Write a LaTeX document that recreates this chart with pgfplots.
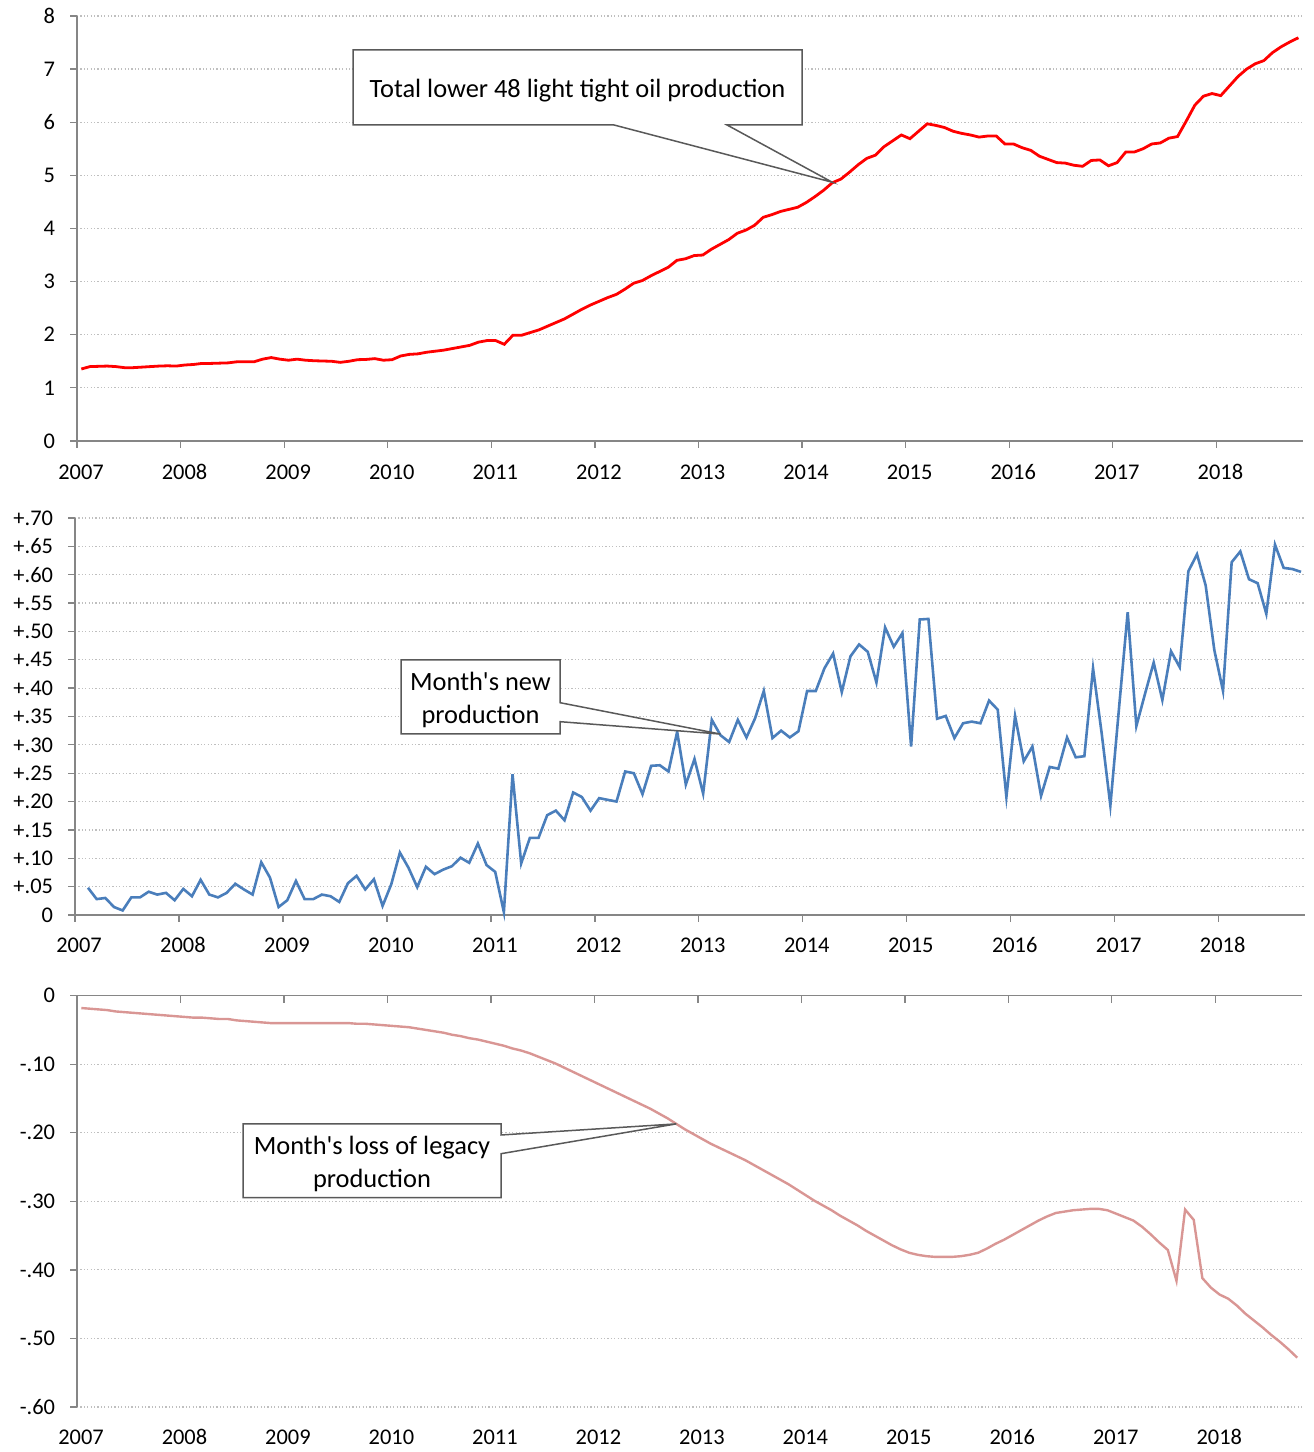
\documentclass[border=0pt]{standalone}
\usepackage{fontspec}
\setmainfont{Carlito}
\usepackage{pgfplots}
\pgfplotsset{compat=1.18}

\definecolor{axgray}{HTML}{868686}
\definecolor{gridgray}{HTML}{BFBFBF}
\definecolor{boxgray}{HTML}{595959}
\definecolor{oilred}{HTML}{FF0000}
\definecolor{newblue}{HTML}{4A7EBB}
\definecolor{losspink}{HTML}{D99694}

\newcommand\ticksize{\fontsize{22.5}{27}\selectfont}
\newcommand\notesize{\fontsize{26.5}{33}\selectfont}

\pgfplotsset{
  panel/.style={
    scale only axis,
    clip=false,
    xmin=-0.5, xmax=141.5,
    xtick={-0.5,11.5,23.5,35.5,47.5,59.5,71.5,83.5,95.5,107.5,119.5,131.5},
    xticklabels={2007,2008,2009,2010,2011,2012,2013,2014,2015,2016,2017,2018},
    major tick length=7bp,
    tick style={draw=axgray, line width=1.3bp},
    ymajorgrids,
    grid style={draw=gridgray, line width=1.2bp, dash pattern=on 1.2bp off 2.2bp},
    tick label style={font=\ticksize, text=black, inner sep=0pt, outer sep=0pt},
  },
  % applied after the axis line keys
  lines/.style={
    axis line style={draw=axgray, line width=1.3bp, -},
    tick align=outside,
    yticklabel style={anchor=east, xshift=-15bp},
  },
  xlab/.style={xticklabel style={anchor=center, text height=14.3bp, text depth=0bp,
    xshift=4bp, yshift=#1}},
}
\tikzset{callout/.style={draw=boxgray, line width=1.5bp, fill=white}}

\begin{document}
\begin{tikzpicture}[x=1bp,y=1bp]
\useasboundingbox (0,0) rectangle (1314,1452);

% total production
\begin{axis}[panel, at={(77bp,1011bp)}, anchor=south west,
    width=1225.7bp, height=425bp,
    axis x line=bottom, axis y line=left, lines, xlab=-24bp,
    ymin=0, ymax=8, ytick={0,1,2,3,4,5,6,7,8},
    yticklabels={0,1,2,3,4,5,6,7,8}]
  \addplot[oilred, line width=2.8bp] coordinates {
    (0,1.355) (1,1.40) (2,1.405) (3,1.41) (4,1.40) (5,1.38) (6,1.38) (7,1.39)
    (8,1.40) (9,1.41) (10,1.415) (11,1.41) (12,1.43) (13,1.44) (14,1.46) (15,1.46)
    (16,1.465) (17,1.47) (18,1.49) (19,1.49) (20,1.49) (21,1.54) (22,1.57) (23,1.54)
    (24,1.52) (25,1.54) (26,1.52) (27,1.51) (28,1.505) (29,1.50) (30,1.48) (31,1.50)
    (32,1.53) (33,1.535) (34,1.55) (35,1.52) (36,1.53) (37,1.60) (38,1.63) (39,1.64)
    (40,1.67) (41,1.69) (42,1.71) (43,1.74) (44,1.77) (45,1.80) (46,1.86) (47,1.89)
    (48,1.89) (49,1.82) (50,1.99) (51,1.99) (52,2.04) (53,2.09) (54,2.16) (55,2.23)
    (56,2.30) (57,2.39) (58,2.48) (59,2.56) (60,2.63) (61,2.70) (62,2.76) (63,2.86)
    (64,2.97) (65,3.02) (66,3.11) (67,3.19) (68,3.27) (69,3.40) (70,3.43) (71,3.49)
    (72,3.50) (73,3.61) (74,3.70) (75,3.79) (76,3.91) (77,3.97) (78,4.06) (79,4.21)
    (80,4.26) (81,4.32) (82,4.36) (83,4.40) (84,4.49) (85,4.60) (86,4.72) (87,4.86)
    (88,4.93) (89,5.06) (90,5.20) (91,5.32) (92,5.38) (93,5.54) (94,5.65) (95,5.76)
    (96,5.69) (97,5.83) (98,5.97) (99,5.94) (100,5.90) (101,5.83) (102,5.79) (103,5.76)
    (104,5.72) (105,5.74) (106,5.74) (107,5.59) (108,5.59) (109,5.52) (110,5.47) (111,5.36)
    (112,5.30) (113,5.24) (114,5.23) (115,5.19) (116,5.17) (117,5.28) (118,5.29) (119,5.18)
    (120,5.24) (121,5.44) (122,5.44) (123,5.50) (124,5.59) (125,5.61) (126,5.70) (127,5.73)
    (128,6.02) (129,6.32) (130,6.49) (131,6.54) (132,6.50) (133,6.68) (134,6.86) (135,7.00)
    (136,7.10) (137,7.16) (138,7.31) (139,7.42) (140,7.51) (141,7.59)
  };
  \coordinate (tipA) at (axis cs:87,4.87);
\end{axis}

% new production
\begin{axis}[panel, at={(75bp,537bp)}, anchor=south west,
    width=1230.3bp, height=397bp,
    axis x line=bottom, axis y line=left, lines, xlab=-23.5bp,
    ymin=0, ymax=0.7,
    ytick={0,0.05,0.1,0.15,0.2,0.25,0.3,0.35,0.4,0.45,0.5,0.55,0.6,0.65,0.7},
    yticklabels={0,+.05,+.10,+.15,+.20,+.25,+.30,+.35,+.40,+.45,+.50,+.55,+.60,+.65,+.70}]
  \addplot[newblue, line width=2.6bp] coordinates {
    (1,0.048) (2,0.028) (3,0.030) (4,0.014) (5,0.008) (6,0.031) (7,0.031)
    (8,0.041) (9,0.036) (10,0.039) (11,0.026) (12,0.046) (13,0.033) (14,0.062) (15,0.036)
    (16,0.031) (17,0.039) (18,0.055) (19,0.045) (20,0.036) (21,0.093) (22,0.066) (23,0.014)
    (24,0.026) (25,0.060) (26,0.028) (27,0.028) (28,0.036) (29,0.033) (30,0.023) (31,0.056)
    (32,0.069) (33,0.045) (34,0.063) (35,0.016) (36,0.054) (37,0.110) (38,0.083) (39,0.049)
    (40,0.085) (41,0.072) (42,0.080) (43,0.086) (44,0.101) (45,0.092) (46,0.126) (47,0.088)
    (48,0.076) (49,0.005) (50,0.248) (51,0.091) (52,0.136) (53,0.136) (54,0.176) (55,0.184)
    (56,0.167) (57,0.216) (58,0.208) (59,0.184) (60,0.206) (61,0.203) (62,0.200) (63,0.253)
    (64,0.250) (65,0.213) (66,0.263) (67,0.264) (68,0.253) (69,0.323) (70,0.230) (71,0.275)
    (72,0.214) (73,0.344) (74,0.317) (75,0.305) (76,0.344) (77,0.313) (78,0.347) (79,0.395)
    (80,0.312) (81,0.325) (82,0.313) (83,0.324) (84,0.395) (85,0.395) (86,0.435) (87,0.461)
    (88,0.393) (89,0.456) (90,0.477) (91,0.464) (92,0.410) (93,0.507) (94,0.473) (95,0.497)
    (96,0.297) (97,0.521) (98,0.522) (99,0.346) (100,0.351) (101,0.312) (102,0.338) (103,0.341)
    (104,0.338) (105,0.378) (106,0.362) (107,0.208) (108,0.351) (109,0.271) (110,0.297) (111,0.210)
    (112,0.261) (113,0.258) (114,0.313) (115,0.278) (116,0.280) (117,0.435) (118,0.320) (119,0.193)
    (120,0.365) (121,0.534) (122,0.333) (123,0.390) (124,0.445) (125,0.379) (126,0.465) (127,0.437)
    (128,0.606) (129,0.636) (130,0.581) (131,0.467) (132,0.395) (133,0.622) (134,0.641) (135,0.592)
    (136,0.585) (137,0.531) (138,0.653) (139,0.612) (140,0.610) (141,0.605)
  };
  \coordinate (tipB) at (axis cs:74,0.319);
\end{axis}

% legacy loss
\begin{axis}[panel, at={(77bp,45bp)}, anchor=south west,
    width=1224.5bp, height=411.3bp,
    axis x line=top, axis y line=left, lines,
    xtick align=inside, xlab=-442bp,
    ymin=-0.6, ymax=0,
    ytick={-0.6,-0.5,-0.4,-0.3,-0.2,-0.1,0},
    yticklabels={-.60,-.50,-.40,-.30,-.20,-.10,0}]
  \addplot[losspink, line width=2.4bp] coordinates {
    (0,-0.018) (1,-0.019) (2,-0.020) (3,-0.021) (4,-0.023) (5,-0.024) (6,-0.025) (7,-0.026)
    (8,-0.027) (9,-0.028) (10,-0.029) (11,-0.030) (12,-0.031) (13,-0.032) (14,-0.032) (15,-0.033)
    (16,-0.034) (17,-0.034) (18,-0.036) (19,-0.037) (20,-0.038) (21,-0.039) (22,-0.040) (23,-0.040)
    (24,-0.040) (25,-0.040) (26,-0.040) (27,-0.040) (28,-0.040) (29,-0.040) (30,-0.040) (31,-0.040)
    (32,-0.041) (33,-0.041) (34,-0.042) (35,-0.043) (36,-0.044) (37,-0.045) (38,-0.046) (39,-0.048)
    (40,-0.050) (41,-0.052) (42,-0.054) (43,-0.057) (44,-0.059) (45,-0.062) (46,-0.064) (47,-0.067)
    (48,-0.070) (49,-0.073) (50,-0.077) (51,-0.080) (52,-0.084) (53,-0.089) (54,-0.094) (55,-0.099)
    (56,-0.105) (57,-0.111) (58,-0.117) (59,-0.123) (60,-0.129) (61,-0.135) (62,-0.141) (63,-0.147)
    (64,-0.153) (65,-0.159) (66,-0.165) (67,-0.172) (68,-0.179) (69,-0.187) (70,-0.195) (71,-0.202)
    (72,-0.209) (73,-0.216) (74,-0.222) (75,-0.228) (76,-0.234) (77,-0.240) (78,-0.247) (79,-0.254)
    (80,-0.261) (81,-0.268) (82,-0.275) (83,-0.283) (84,-0.291) (85,-0.299) (86,-0.306) (87,-0.313)
    (88,-0.321) (89,-0.328) (90,-0.335) (91,-0.343) (92,-0.350) (93,-0.357) (94,-0.364) (95,-0.370)
    (96,-0.375) (97,-0.378) (98,-0.380) (99,-0.381) (100,-0.381) (101,-0.381) (102,-0.380) (103,-0.378)
    (104,-0.375) (105,-0.369) (106,-0.362) (107,-0.356) (108,-0.349) (109,-0.342) (110,-0.335) (111,-0.328)
    (112,-0.322) (113,-0.317) (114,-0.315) (115,-0.313) (116,-0.312) (117,-0.311) (118,-0.311) (119,-0.313)
    (120,-0.318) (121,-0.323) (122,-0.328) (123,-0.337) (124,-0.348) (125,-0.360) (126,-0.371) (127,-0.416)
    (128,-0.312) (129,-0.327) (130,-0.412) (131,-0.426) (132,-0.436) (133,-0.442) (134,-0.452) (135,-0.464)
    (136,-0.474) (137,-0.484) (138,-0.495) (139,-0.505) (140,-0.516) (141,-0.528)
  };
  \coordinate (tipC) at (axis cs:69,-0.187);
\end{axis}

% callouts
\draw[callout] (353,1402) -- (802,1402) -- (802,1327) -- (727,1327) -- (tipA)
  -- (614,1327) -- (353,1327) -- cycle;
\node[font=\notesize] at (577.5,1361.5) {Total lower 48 light tight oil production};

\draw[callout] (401,792) -- (560,792) -- (560,749.3) -- (tipB) -- (560,730.3)
  -- (560,718) -- (401,718) -- cycle;
\node[font=\notesize, align=center] at (480.5,752) {Month\textquotesingle s new\\production};

\draw[callout] (243,328) -- (501,328) -- (501,317) -- (tipC) -- (501,298.3)
  -- (501,254.3) -- (243,254.3) -- cycle;
\node[font=\notesize, align=center] at (372,288) {Month\textquotesingle s loss of legacy\\production};
\end{tikzpicture}
\end{document}
